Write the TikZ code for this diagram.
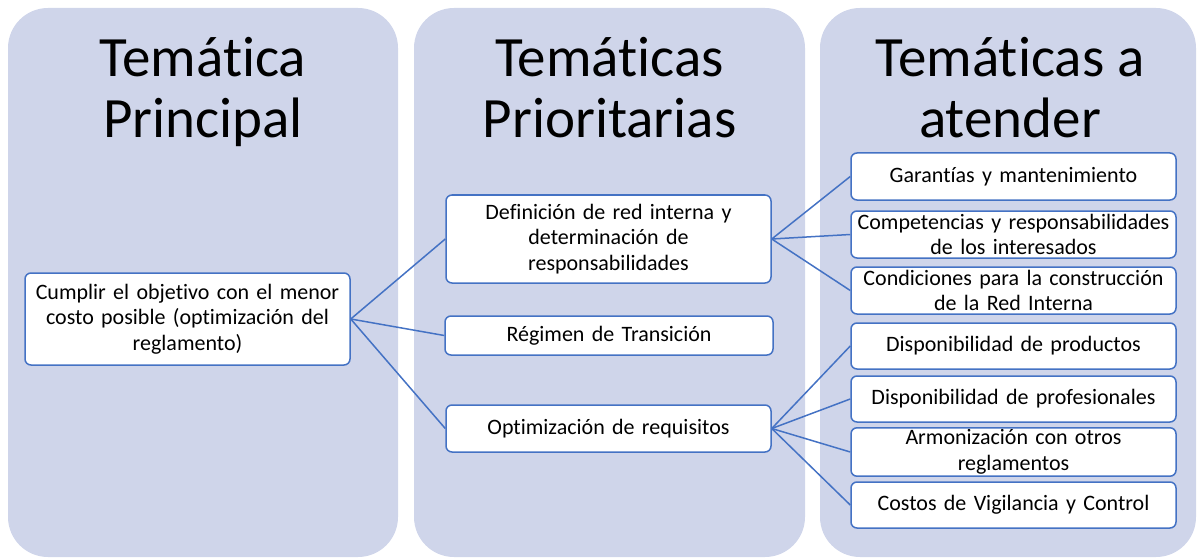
\documentclass[tikz,border=0pt]{standalone}
\usepackage{fontspec}
\setmainfont{Carlito}[Ligatures={NoCommon}]
\definecolor{panelc}{HTML}{CFD5EA}
\definecolor{linec}{HTML}{4472C4}
\tikzset{
  panel/.style={fill=panelc, rounded corners=40},
  ttl/.style={anchor=base, inner sep=0, font=\fontsize{57}{61}\selectfont},
  box/.style={draw=linec, line width=1.5pt, fill=white, rounded corners=6, align=center, inner sep=2pt, font=\fontsize{22}{25.5}\selectfont},
  conn/.style={draw=linec, line width=1.5pt},
}
\begin{document}
\begin{tikzpicture}[x=1pt,y=-1pt]
\useasboundingbox (0,0) rectangle (1200,559);
\fill[panel] (8,8) rectangle (398,557);
\fill[panel] (414,8) rectangle (805,557);
\fill[panel] (820,8) rectangle (1196,557);

\node[ttl] (t1a) at (203,77) {Temática};
\node[ttl] (t1b) at (203,138) {Principal};
\node[ttl] (t2a) at (609.5,77) {Temáticas};
\node[ttl] (t2b) at (609.5,138) {Prioritarias};
\node[ttl] (t3a) at (1010,77) {Temáticas a};
\node[ttl] (t3b) at (1010,138) {atender};

\node[box, minimum width=325, minimum height=92, text width=321] (main) at (187.5,319) {Cumplir el objetivo con el menor\\costo posible (optimización del\\reglamento)};

\node[box, minimum width=325, minimum height=88, text width=321] (def) at (608.5,239) {Definición de red interna y\\determinación de\\responsabilidades};
\node[box, minimum width=328, minimum height=39, text width=324] (reg) at (609,335.5) {Régimen de Transición};
\node[box, minimum width=325, minimum height=47, text width=321] (opt) at (608.5,428.5) {Optimización de requisitos};

\node[box, minimum width=325, minimum height=47, text width=321] (gar) at (1013.5,176.5) {Garantías y mantenimiento};
\node[box, minimum width=325, minimum height=47, text width=321] (comp) at (1013.5,234.5) {Competencias y responsabilidades\\de los interesados};
\node[box, minimum width=325, minimum height=47, text width=321] (cond) at (1013.5,290.5) {Condiciones para la construcción\\de la Red Interna};
\node[box, minimum width=325, minimum height=46, text width=321] (prod) at (1013.5,346) {Disponibilidad de productos};
\node[box, minimum width=325, minimum height=46, text width=321] (prof) at (1013.5,399) {Disponibilidad de profesionales};
\node[box, minimum width=325, minimum height=46, text width=321] (arm) at (1013.5,452) {Armonización con otros\\reglamentos};
\node[box, minimum width=325, minimum height=46, text width=321] (cost) at (1013.5,505) {Costos de Vigilancia y Control};

\draw[conn] (main.east) -- (def.west);
\draw[conn] (main.east) -- (reg.west);
\draw[conn] (main.east) -- (opt.west);
\draw[conn] (def.east) -- (gar.west);
\draw[conn] (def.east) -- (comp.west);
\draw[conn] (def.east) -- (cond.west);
\draw[conn] (opt.east) -- (prod.west);
\draw[conn] (opt.east) -- (prof.west);
\draw[conn] (opt.east) -- (arm.west);
\draw[conn] (opt.east) -- (cost.west);
\end{tikzpicture}
\end{document}
